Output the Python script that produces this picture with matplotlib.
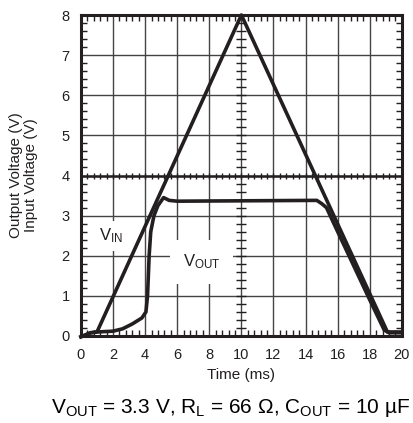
import numpy as np
import matplotlib
matplotlib.use('Agg')
import matplotlib.pyplot as plt
from matplotlib.ticker import MultipleLocator

plt.rcParams['font.family'] = ['Liberation Sans', 'DejaVu Sans']
plt.rcParams['mathtext.fontset'] = 'custom'
plt.rcParams['mathtext.rm'] = 'Liberation Sans'
plt.rcParams['mathtext.it'] = 'Liberation Sans:italic'

# tensao de entrada (rampa triangular)
t_vin = [0.0, 0.6, 1.0, 10.0, 19.1, 20.0]
vin = [-0.02, 0.08, 0.1, 8.0, 0.1, 0.1]

# tensao de saida
t_vout = [0.0, 0.6, 1.0, 2.0, 2.6, 3.2, 3.8, 4.05, 4.15, 4.25, 4.35, 4.55, 4.8,
          5.15, 5.5, 6.0, 14.7, 15.0, 15.3, 16.0, 17.0, 18.0, 18.9, 19.2, 20.0]
vout = [-0.02, 0.08, 0.1, 0.12, 0.18, 0.3, 0.45, 0.6, 1.0, 2.0, 2.6, 3.0, 3.25,
        3.45, 3.38, 3.36, 3.38, 3.3, 3.2, 2.6, 1.75, 0.9, 0.15, 0.08, 0.08]

cor = '#231f20'
grade = '#444444'

fig = plt.figure(figsize=(4.13, 4.23), dpi=100)
ax = fig.add_axes([0.196, 0.2057, 0.777, 0.7588])

ax.set_xlim(0, 20)
ax.set_ylim(0, 8)
ax.xaxis.set_major_locator(MultipleLocator(2))
ax.yaxis.set_major_locator(MultipleLocator(1))
ax.xaxis.set_minor_locator(MultipleLocator(0.4))
ax.yaxis.set_minor_locator(MultipleLocator(0.2))
ax.grid(True, which='major', color=grade, lw=1.0)
ax.tick_params(which='major', length=0, labelsize=10.5, colors=cor)
ax.tick_params(axis='x', which='major', pad=9)
ax.tick_params(axis='y', which='major', pad=8)
ax.tick_params(which='minor', direction='in', length=4, width=1,
               top=True, right=True, color=cor)
for s in ax.spines.values():
    s.set_linewidth(2.2)
    s.set_color(cor)

# linhas centrais com marcas
ax.axhline(4, color=cor, lw=1.8, zorder=2)
xs = np.arange(0.4, 20, 0.4)
ax.plot(xs, np.full(len(xs), 4.0), ls='none', marker='|', ms=5, mew=1,
        color=cor, zorder=2)
ys = np.arange(0.2, 8, 0.2)
ax.plot(np.full(len(ys), 10.0), ys, ls='none', marker='_', ms=7, mew=1,
        color=cor, zorder=2)

ax.plot(t_vin, vin, color=cor, lw=2.6, zorder=4, clip_on=False)
ax.plot(t_vout, vout, color=cor, lw=2.6, zorder=4, clip_on=False)

ax.text(1.9, 2.5, r'V$_{\mathrm{IN}}$', fontsize=12, ha='center', va='center',
        color=cor, zorder=3,
        bbox=dict(facecolor='white', edgecolor='none', pad=4))
ax.text(7.5, 1.85, r'V$_{\mathrm{OUT}}$', fontsize=12, ha='center', va='center',
        color=cor, zorder=3,
        bbox=dict(facecolor='white', edgecolor='none', pad=9))

ax.set_xlabel('Time (ms)', fontsize=11, color=cor, labelpad=4)
fig.text(0.057, 0.586, 'Output Voltage (V)\nInput Voltage (V)', rotation=90,
         ha='center', va='center', fontsize=11, color=cor, linespacing=1.15)

fig.text(0.124, 0.035,
         r'V$_{\mathrm{OUT}}$ = 3.3 V, R$_{\mathrm{L}}$ = 66 Ω, C$_{\mathrm{OUT}}$ = 10 µF',
         ha='left', va='center', fontsize=15, color='black')

fig.savefig('out.png', dpi=100)
